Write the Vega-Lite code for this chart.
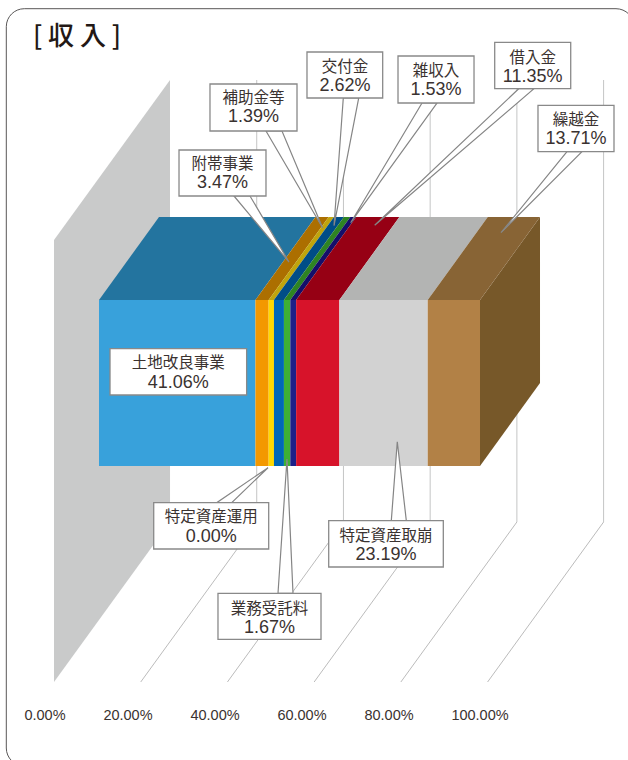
{
"$schema":"https://vega.github.io/schema/vega-lite/v6.json",
"width":628,"height":760,"autosize":{"type":"fit","contains":"padding"},"padding":0,
"background":"white","view":{"stroke":null},
"datasets":{
"grid":[{"k":"20%","x":10.95,"y":78,"part":"floor"},{"k":"20%","x":41.40,"y":238,"part":"floor"},{"k":"20%","x":41.40,"y":680,"part":"back"},
{"k":"40%","x":33.71,"y":78,"part":"floor"},{"k":"40%","x":64.16,"y":238,"part":"floor"},{"k":"40%","x":64.16,"y":680,"part":"back"},
{"k":"60%","x":56.47,"y":78,"part":"floor"},{"k":"60%","x":86.92,"y":238,"part":"floor"},{"k":"60%","x":86.92,"y":680,"part":"back"},
{"k":"80%","x":79.23,"y":78,"part":"floor"},{"k":"80%","x":109.68,"y":238,"part":"floor"},{"k":"80%","x":109.68,"y":680,"part":"back"},
{"k":"100%","x":101.99,"y":78,"part":"floor"},{"k":"100%","x":132.44,"y":238,"part":"floor"},{"k":"100%","x":132.44,"y":680,"part":"back"}],
"segments":[{"item":"土地改良事業","c0":0,"c1":41.06},{"item":"附帯事業","c0":41.06,"c1":44.53},{"item":"補助金等","c0":44.53,"c1":45.92},{"item":"特定資産運用","c0":45.92,"c1":45.92},{"item":"交付金","c0":45.92,"c1":48.54},{"item":"業務受託料","c0":48.54,"c1":50.21},{"item":"雑収入","c0":50.21,"c1":51.74},{"item":"借入金","c0":51.74,"c1":63.09},{"item":"特定資産取崩","c0":63.09,"c1":86.28},{"item":"繰越金","c0":86.28,"c1":100}],
"top":[{"item":"土地改良事業","a":0,"b":41.06,"y":460},{"item":"土地改良事業","a":15.75,"b":56.81,"y":543},
{"item":"附帯事業","a":41.06,"b":44.53,"y":460},{"item":"附帯事業","a":56.81,"b":60.28,"y":543},
{"item":"補助金等","a":44.53,"b":45.92,"y":460},{"item":"補助金等","a":60.28,"b":61.67,"y":543},
{"item":"交付金","a":45.92,"b":48.54,"y":460},{"item":"交付金","a":61.67,"b":64.29,"y":543},
{"item":"業務受託料","a":48.54,"b":50.21,"y":460},{"item":"業務受託料","a":64.29,"b":65.96,"y":543},
{"item":"雑収入","a":50.21,"b":51.74,"y":460},{"item":"雑収入","a":65.96,"b":67.49,"y":543},
{"item":"借入金","a":51.74,"b":63.09,"y":460},{"item":"借入金","a":67.49,"b":78.84,"y":543},
{"item":"特定資産取崩","a":63.09,"b":86.28,"y":460},{"item":"特定資産取崩","a":78.84,"b":102.03,"y":543},
{"item":"繰越金","a":86.28,"b":100,"y":460},{"item":"繰越金","a":102.03,"b":115.75,"y":543}],
"wedges":[{"item":"附帯事業","a":35.43,"b":39.63,"y":564},{"item":"附帯事業","a":49.87,"b":49.87,"y":498},
{"item":"補助金等","a":43.83,"b":48.03,"y":629},{"item":"補助金等","a":58.71,"b":58.71,"y":532},
{"item":"交付金","a":64.12,"b":68.16,"y":662},{"item":"交付金","a":61.68,"b":61.68,"y":534.3},
{"item":"雑収入","a":84.78,"b":88.71,"y":657},{"item":"雑収入","a":66.06,"b":66.06,"y":537.3},
{"item":"借入金","a":110.16,"b":114.17,"y":671.3},{"item":"借入金","a":72.36,"b":72.36,"y":534.7},
{"item":"繰越金","a":122.83,"b":126.77,"y":608.3},{"item":"繰越金","a":105.51,"b":105.51,"y":527.3},
{"item":"特定資産運用","a":30.89,"b":34.83,"y":257.3},{"item":"特定資産運用","a":44.36,"b":44.36,"y":292.3},
{"item":"業務受託料","a":46.98,"b":50.92,"y":166.7},{"item":"業務受託料","a":49.34,"b":49.34,"y":301},
{"item":"特定資産取崩","a":76.72,"b":80.66,"y":239.3},{"item":"特定資産取崩","a":78.29,"b":78.29,"y":318.3}],
"boxes":[{"item":"土地改良事業","label":"41.06%","x0":2.89,"x1":38.75,"y0":411.3,"y1":365,"xc":20.8,"t1":397,"t2":377.5},
{"item":"附帯事業","label":"3.47%","x0":21.0,"x1":43.83,"y0":610,"y1":564,"xc":32.41,"t1":596,"t2":577},
{"item":"補助金等","label":"1.39%","x0":29.13,"x1":51.97,"y0":676,"y1":629,"xc":40.55,"t1":662,"t2":643},
{"item":"交付金","label":"2.62%","x0":54.59,"x1":74.46,"y0":708,"y1":662,"xc":64.54,"t1":693,"t2":674},
{"item":"雑収入","label":"1.53%","x0":78.48,"x1":98.43,"y0":704,"y1":657,"xc":88.45,"t1":689,"t2":670},
{"item":"借入金","label":"11.35%","x0":103.86,"x1":123.81,"y0":717.7,"y1":671.3,"xc":113.83,"t1":702.3,"t2":683.3},
{"item":"繰越金","label":"13.71%","x0":115.22,"x1":135.17,"y0":654.7,"y1":608.3,"xc":125.2,"t1":640,"t2":620.7},
{"item":"特定資産運用","label":"0.00%","x0":14.36,"x1":44.54,"y0":257.3,"y1":211,"xc":29.45,"t1":242.7,"t2":223.3},
{"item":"業務受託料","label":"1.67%","x0":31.23,"x1":58.27,"y0":166.7,"y1":120.7,"xc":44.75,"t1":151,"t2":132.3},
{"item":"特定資産取崩","label":"23.19%","x0":60.29,"x1":90.37,"y0":239.3,"y1":193,"xc":75.33,"t1":224.3,"t2":205},
{"item":"","label":"","x0":0,"x1":0,"y0":0,"y1":0,"xc":0,"t1":0,"t2":0}],
"ticks":[{"t":"0.00%","x":-14.17,"y":44},{"t":"20.00%","x":7.61,"y":44},{"t":"40.00%","x":30.45,"y":44},{"t":"60.00%","x":53.28,"y":44},{"t":"80.00%","x":76.12,"y":44},{"t":"100.00%","x":100,"y":44}]
},
"resolve":{"scale":{"color":"independent"}},
"layer":[
{"data":{"values":[{"x0":-24.33,"x1":140.42,"y0":751.3,"y1":-6}]},
 "mark":{"type":"rect","fill":"white","stroke":"#595757","strokeWidth":1,"cornerRadius":18,"clip":true},
 "encoding":{"x":{"field":"x0","type":"quantitative","axis":null,"scale":{"domain":[-25.984,138.845],"nice":false,"zero":false}},"x2":{"field":"x1"},
 "y":{"field":"y0","type":"quantitative","axis":null,"scale":{"domain":[0,760],"nice":false,"zero":false}},"y2":{"field":"y1"}}},
{"data":{"values":[{"x":-11.81,"y0":520,"y1":78},{"x":18.64,"y0":680,"y1":238}]},
 "mark":{"type":"area","orient":"vertical","fill":"#c9caca"},
 "encoding":{"x":{"field":"x","type":"quantitative","axis":null,"scale":{"domain":[-25.984,138.845],"nice":false,"zero":false}},
 "y":{"field":"y0","type":"quantitative","axis":null,"stack":null,"scale":{"domain":[0,760],"nice":false,"zero":false}},"y2":{"field":"y1"}}},
{"data":{"name":"grid"},"transform":[{"filter":"datum.part==='back'||datum.y==238"}],
 "mark":{"type":"line","stroke":"#c4c5c5","strokeWidth":1,"interpolate":"linear"},
 "encoding":{"detail":{"field":"k"},"order":{"field":"y"},"x":{"field":"x","type":"quantitative","axis":null,"scale":{"domain":[-25.984,138.845],"nice":false,"zero":false}},
 "y":{"field":"y","type":"quantitative","axis":null,"scale":{"domain":[0,760],"nice":false,"zero":false}}}},
{"data":{"name":"grid"},"transform":[{"filter":"datum.part==='floor'"}],
 "mark":{"type":"line","stroke":"#a9a9a9","strokeWidth":0.8},
 "encoding":{"detail":{"field":"k"},"order":{"field":"y"},"x":{"field":"x","type":"quantitative","axis":null,"scale":{"domain":[-25.984,138.845],"nice":false,"zero":false}},
 "y":{"field":"y","type":"quantitative","axis":null,"scale":{"domain":[0,760],"nice":false,"zero":false}}}},
{"data":{"values":[{"x":100,"y0":460,"y1":294},{"x":115.75,"y0":543,"y1":377}]},
 "mark":{"type":"area","orient":"vertical","fill":"#775829"},
 "encoding":{"x":{"field":"x","type":"quantitative","axis":null,"scale":{"domain":[-25.984,138.845],"nice":false,"zero":false}},
 "y":{"field":"y0","type":"quantitative","axis":null,"stack":null,"scale":{"domain":[0,760],"nice":false,"zero":false}},"y2":{"field":"y1"}}},
{"data":{"name":"top"},
 "mark":{"type":"area","orient":"horizontal"},
 "encoding":{"x":{"field":"a","type":"quantitative","axis":null,"stack":null,"scale":{"domain":[-25.984,138.845],"nice":false,"zero":false}},"x2":{"field":"b"},
 "y":{"field":"y","type":"quantitative","axis":null,"scale":{"domain":[0,760],"nice":false,"zero":false}},
 "color":{"field":"item","type":"nominal","legend":null,"scale":{"domain":["土地改良事業","附帯事業","補助金等","交付金","業務受託料","雑収入","借入金","特定資産取崩","繰越金"],"range":["#23749f","#ac6f00","#c0a50c","#004d87","#2e8423","#140f6a","#960014","#b3b4b3","#886435"]}}}},
{"data":{"name":"segments"},
 "mark":{"type":"rect"},
 "encoding":{"x":{"field":"c0","type":"quantitative","axis":null,"stack":null,"scale":{"domain":[-25.984,138.845],"nice":false,"zero":false}},"x2":{"field":"c1"},
 "y":{"datum":460,"type":"quantitative","axis":null,"scale":{"domain":[0,760],"nice":false,"zero":false}},"y2":{"datum":294},
 "color":{"field":"item","type":"nominal","legend":null,"scale":{"domain":["土地改良事業","附帯事業","補助金等","特定資産運用","交付金","業務受託料","雑収入","借入金","特定資産取崩","繰越金"],"range":["#38a1db","#f39800","#ffd900","#888888","#0068b7","#3eb034","#1d2088","#d7132a","#d2d2d2","#b28146"]}}}},
{"data":{"name":"wedges"},
 "mark":{"type":"area","orient":"horizontal","fill":"white","stroke":"#858585","strokeWidth":1.2,"strokeJoin":"miter"},
 "encoding":{"detail":{"field":"item"},"x":{"field":"a","type":"quantitative","axis":null,"stack":null,"scale":{"domain":[-25.984,138.845],"nice":false,"zero":false}},"x2":{"field":"b"},
 "y":{"field":"y","type":"quantitative","axis":null,"scale":{"domain":[0,760],"nice":false,"zero":false}}}},
{"data":{"name":"boxes"},"transform":[{"filter":"datum.item!=''"}],
 "mark":{"type":"rect","fill":"white","stroke":"#898989","strokeWidth":1.3},
 "encoding":{"x":{"field":"x0","type":"quantitative","axis":null,"scale":{"domain":[-25.984,138.845],"nice":false,"zero":false}},"x2":{"field":"x1"},
 "y":{"field":"y0","type":"quantitative","axis":null,"scale":{"domain":[0,760],"nice":false,"zero":false}},"y2":{"field":"y1"}}},
{"data":{"name":"boxes"},"transform":[{"filter":"datum.item!=''"}],
 "mark":{"type":"text","font":"Noto Sans CJK JP","fontSize":15.5,"fill":"#3a3230","baseline":"middle","align":"center"},
 "encoding":{"text":{"field":"item"},"x":{"field":"xc","type":"quantitative","axis":null,"scale":{"domain":[-25.984,138.845],"nice":false,"zero":false}},
 "y":{"field":"t1","type":"quantitative","axis":null,"scale":{"domain":[0,760],"nice":false,"zero":false}}}},
{"data":{"name":"boxes"},"transform":[{"filter":"datum.item!=''"}],
 "mark":{"type":"text","font":"Liberation Sans","fontSize":18,"fill":"#3a3230","baseline":"middle","align":"center"},
 "encoding":{"text":{"field":"label"},"x":{"field":"xc","type":"quantitative","axis":null,"scale":{"domain":[-25.984,138.845],"nice":false,"zero":false}},
 "y":{"field":"t2","type":"quantitative","axis":null,"scale":{"domain":[0,760],"nice":false,"zero":false}}}},
{"data":{"name":"ticks"},
 "mark":{"type":"text","font":"Liberation Sans","fontSize":14.5,"fill":"#3a3230","baseline":"middle","align":"center"},
 "encoding":{"text":{"field":"t"},"x":{"field":"x","type":"quantitative","axis":null,"scale":{"domain":[-25.984,138.845],"nice":false,"zero":false}},
 "y":{"field":"y","type":"quantitative","axis":null,"scale":{"domain":[0,760],"nice":false,"zero":false}}}},
{"data":{"values":[{"t":"[ 収 入 ]","x":-5.77,"y":723}]},
 "mark":{"type":"text","font":"Noto Sans CJK JP","fontWeight":500,"fontSize":26,"fill":"#231815","baseline":"middle","align":"center"},
 "encoding":{"text":{"field":"t"},"x":{"field":"x","type":"quantitative","axis":null,"scale":{"domain":[-25.984,138.845],"nice":false,"zero":false}},
 "y":{"field":"y","type":"quantitative","axis":null,"scale":{"domain":[0,760],"nice":false,"zero":false}}}}
]
}
